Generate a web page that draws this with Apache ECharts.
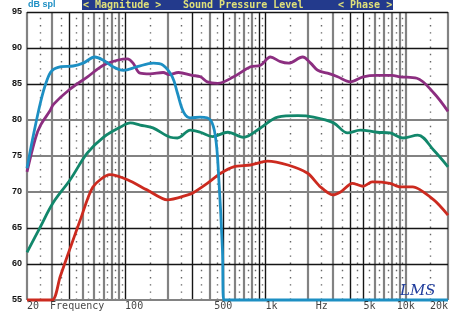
<!DOCTYPE html>
<html><head><meta charset="utf-8">
<script src="https://cdn.jsdelivr.net/npm/echarts@6/dist/echarts.min.js"></script>
<style>html,body{margin:0;padding:0;background:#fff}#c{width:450px;height:312px}</style>
</head><body><div id="c"></div>
<script>
// ---- data ----
const blueFreq = [20, 22, 25, 27.5, 30, 35, 42.6, 50.2, 61, 70, 82, 97, 122, 159, 187, 217, 236, 261, 292, 344, 406, 441, 463, 494, 505, 20000];
const blueSpl  = [73.3, 77.5, 82.5, 85.3, 86.8, 87.4, 87.5, 87.9, 88.75, 88.3, 87.4, 86.9, 87.4, 87.9, 87.6, 86, 83.75, 81.1, 80.3, 80.4, 80, 77.6, 72.6, 62, 55, 55];

const purpleFreq = [20, 23, 25, 29, 31, 40, 54, 70, 88, 104, 114, 128, 150, 187, 205, 240, 300, 344, 385, 457, 594, 783, 922, 1085, 1280, 1465, 1840, 2100, 2360, 2770, 3270, 4030, 4970, 6250, 7980, 9090, 12000, 15840, 20000];
const purpleSpl  = [72.8, 77.5, 79.3, 81.2, 82.2, 84.2, 86, 87.6, 88.3, 88.5, 87.9, 86.5, 86.4, 86.6, 86.3, 86.6, 86.2, 86.0, 85.3, 85.1, 86, 87.4, 87.6, 88.75, 88.1, 87.9, 88.75, 87.9, 86.9, 86.5, 86, 85.3, 86, 86.2, 86.2, 86, 85.8, 83.75, 81.2];

const greenFreq = [20, 24.8, 30.7, 40.6, 53.7, 70, 92.3, 109, 128, 158, 210, 236, 292, 344, 420, 539, 697, 922, 1223, 1700, 2200, 3060, 3850, 4740, 6250, 7720, 9540, 12180, 15840, 20000];
const greenSpl  = [61.6, 65.1, 68.5, 71.7, 75.4, 77.6, 79, 79.6, 79.3, 78.9, 77.6, 77.5, 78.6, 78.3, 77.7, 78.3, 77.6, 78.9, 80.4, 80.6, 80.4, 79.6, 78.2, 78.6, 78.3, 78.2, 77.5, 77.9, 75.8, 73.5];

const redFreq = [20, 30.2, 34.4, 40.6, 47.9, 59, 78, 104, 143, 200, 280, 306, 385, 480, 594, 783, 1035, 1445, 2000, 2470, 3010, 3430, 4160, 4970, 5760, 7720, 9090, 11210, 15840, 20000];
const redSpl  = [55, 55, 58.2, 62.2, 66.1, 70.7, 72.4, 71.7, 70.3, 68.9, 69.6, 69.9, 71.2, 72.6, 73.5, 73.75, 74.3, 73.75, 72.6, 70.7, 69.6, 70, 71.2, 70.8, 71.4, 71.2, 70.7, 70.7, 68.9, 66.8];

// axis ticks and labels
const yTicks = [55, 60, 65, 70, 75, 80, 85, 90, 95];
const yGridDark = [60, 65, 85, 90, 95];
const yGridGray = [55, 70, 75, 80];
const xGridDark = [40, 100, 300, 500, 900, 1000, 4000, 5000];
const xGridGray = [20, 30, 50, 60, 70, 80, 90, 200, 400, 600, 700, 800, 2000, 3000, 6000, 7000, 8000, 9000, 10000, 20000];
const xGridDots = [25, 35, 45, 55, 65, 75, 85, 95, 150, 250, 350, 450, 550, 650, 750, 850, 950, 1500, 2500, 3500, 4500, 5500, 6500, 7500, 8500, 9500, 15000];
const xLabelFreq = [20, 29.2, 100, 500, 1000, 2280, 5000, 10000, 20000];
const xLabelText = ['20', 'Frequency', '100', '500', '1k', 'Hz', '5k', '10k', '20k'];
const xLabelAlign = ['left', 'left', 'left', 'center', 'left', 'left', 'left', 'center', 'right'];

const zip = (a, b) => a.map((v, i) => [v, b[i]]);

const gridLines = [];
xGridDots.forEach(f => gridLines.push({xAxis: f, lineStyle: {color: '#666', width: 1.4, type: [1.4, 5.8]}}));
xGridGray.forEach(f => gridLines.push({xAxis: f, lineStyle: {color: '#828282', width: 2.2, type: 'solid'}}));
xGridDark.forEach(f => gridLines.push({xAxis: f, lineStyle: {color: '#151515', width: 1.4, type: 'solid'}}));
yGridGray.forEach(v => gridLines.push({yAxis: v, lineStyle: {color: '#828282', width: 2.2, type: 'solid'}}));
yGridDark.forEach(v => gridLines.push({yAxis: v, lineStyle: {color: '#151515', width: 1.4, type: 'solid'}}));

const curve = (name, f, s, color, sm) => ({
  name, type: 'line', data: zip(f, s), smooth: sm, symbol: 'none', z: 5,
  lineStyle: {color, width: 2.8}, clip: false
});

const chart = echarts.init(document.getElementById('c'), null, {renderer: 'canvas'});
chart.setOption({
  animation: false,
  backgroundColor: '#fff',
  grid: {left: 27, right: 2, top: 12, bottom: 12},
  xAxis: {type: 'log', logBase: 10, min: 20, max: 20000,
    axisLine: {show: false}, axisTick: {show: false}, axisLabel: {show: false}, splitLine: {show: false}},
  yAxis: {type: 'value', min: 55, max: 95, interval: 5,
    axisLine: {show: false}, axisTick: {show: false}, splitLine: {show: false},
    axisLabel: {color: '#111', fontSize: 9, fontWeight: 'bold', fontFamily: 'Liberation Sans, Arial', margin: 5}},
  series: [
    {type: 'line', data: [[20, 55]], symbol: 'none', lineStyle: {width: 0}, z: 1, silent: true,
     markLine: {silent: true, symbol: 'none', label: {show: false}, animation: false, data: gridLines}},
    curve('Purple', purpleFreq, purpleSpl, '#8c2e80', 0.35),
    curve('Green', greenFreq, greenSpl, '#12876b', 0.35),
    curve('Red', redFreq, redSpl, '#cc2a1f', 0.25),
    curve('Blue', blueFreq, blueSpl, '#1d8fc3', 0.35),
    {type: 'scatter', symbolSize: 0, z: 6, silent: true,
     data: xLabelFreq.map((f, i) => ({value: [f, 55], label: {align: xLabelAlign[i]}})),
     label: {show: true, position: 'bottom', distance: 1, color: '#111', fontSize: 10,
       fontFamily: 'DejaVu Sans Mono', formatter: p => xLabelText[p.dataIndex]}}
  ],
  graphic: [
    {type: 'rect', shape: {x: 82, y: 0, width: 311, height: 10}, style: {fill: '#233a8c'}, z: 10},
    {type: 'text', x: 83, y: 5, z: 11, style: {text: '< Magnitude >', fill: '#dfe07a', font: 'bold 10px DejaVu Sans Mono', textVerticalAlign: 'middle'}},
    {type: 'text', x: 183, y: 5, z: 11, style: {text: 'Sound Pressure Level', fill: '#dfe07a', font: 'bold 10px DejaVu Sans Mono', textVerticalAlign: 'middle'}},
    {type: 'text', x: 338, y: 5, z: 11, style: {text: '< Phase >', fill: '#dfe07a', font: 'bold 10px DejaVu Sans Mono', textVerticalAlign: 'middle'}},
    {type: 'text', x: 28, y: 5, z: 11, style: {text: 'dB spl', fill: '#1e8fc4', font: 'bold 9px Liberation Sans', textVerticalAlign: 'middle'}},
    {type: 'text', x: 400, y: 291, z: 11, style: {text: 'LMS', fill: '#1f3c9c', font: 'italic 15px DejaVu Serif', textVerticalAlign: 'middle'}}
  ]
});
</script></body></html>
